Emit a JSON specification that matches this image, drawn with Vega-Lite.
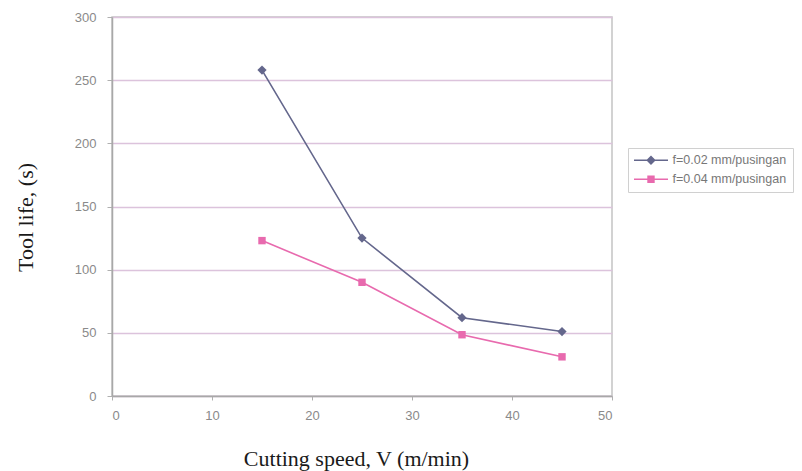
{
  "$schema": "https://vega.github.io/schema/vega-lite/v6.json",
  "width": 500,
  "height": 379,
  "autosize": "none",
  "padding": {"left": 112, "top": 17, "right": 190, "bottom": 75},
  "background": "white",
  "config": {
    "view": {"stroke": "#c4c4c4", "strokeWidth": 1.5},
    "axis": {"labelFont": "Liberation Sans", "labelColor": "#8a8a8a", "labelFontSize": 13, "domainColor": "#a8a8a8", "domainWidth": 1.5, "tickColor": "#b0b0b0", "titleFont": "Liberation Serif", "titleFontWeight": "normal", "titleColor": "#1a1a1a", "titleFontSize": 22}
  },
  "data": {
    "values": [
      {"V": 15, "T": 258, "f": "f=0.02 mm/pusingan"},
      {"V": 25, "T": 125, "f": "f=0.02 mm/pusingan"},
      {"V": 35, "T": 62, "f": "f=0.02 mm/pusingan"},
      {"V": 45, "T": 51, "f": "f=0.02 mm/pusingan"},
      {"V": 15, "T": 123, "f": "f=0.04 mm/pusingan"},
      {"V": 25, "T": 90, "f": "f=0.04 mm/pusingan"},
      {"V": 35, "T": 48.5, "f": "f=0.04 mm/pusingan"},
      {"V": 45, "T": 31, "f": "f=0.04 mm/pusingan"}
    ]
  },
  "encoding": {
    "x": {"field": "V", "type": "quantitative", "scale": {"domain": [0, 50], "nice": false},
      "axis": {"values": [0, 10, 20, 30, 40, 50], "grid": false, "tickSize": 4, "labelPadding": 9, "title": "Cutting speed, V (m/min)", "titleX": 244, "titleY": 62, "titleBaseline": "middle"}},
    "y": {"field": "T", "type": "quantitative", "scale": {"domain": [0, 300], "nice": false},
      "axis": {"values": [0, 50, 100, 150, 200, 250, 300], "grid": true, "gridColor": "#dcc3dc", "gridWidth": 1.5, "tickSize": 5, "labelPadding": 11, "title": "Tool life, (s)", "titleX": -87, "titleY": 200, "titleAngle": -90, "titleAlign": "center", "titleBaseline": "middle"}},
    "color": {"field": "f", "type": "nominal",
      "scale": {"domain": ["f=0.02 mm/pusingan", "f=0.04 mm/pusingan"], "range": ["#64678c", "#e86aae"]},
      "legend": {"orient": "none", "legendX": 516, "legendY": 131, "title": null,
        "strokeColor": "#d0d0d0", "padding": 6, "fillColor": "white",
        "labelFont": "Liberation Sans", "labelFontSize": 12.5, "labelColor": "#777777",
        "symbolSize": 100, "labelOffset": 26, "rowPadding": 6,
        "encode": {"symbols": {"update": {
          "shape": {"signal": "datum.value == 'f=0.02 mm/pusingan' ? 'M-3.4,0H3.4M0,-0.75L0.75,0L0,0.75L-0.75,0Z' : 'M-3.4,0H3.4M-0.6,-0.6H0.6V0.6H-0.6Z'"},
          "stroke": {"signal": "datum.value == 'f=0.02 mm/pusingan' ? '#64678c' : '#e86aae'"},
          "fill": {"signal": "datum.value == 'f=0.02 mm/pusingan' ? '#55587a' : '#e05aa5'"},
          "strokeWidth": {"value": 1.4},
          "x": {"value": 17}
        }}}
      }}
  },
  "layer": [
    {"mark": {"type": "line", "strokeWidth": 1.6}},
    {"mark": {"type": "point", "filled": true, "opacity": 1},
      "encoding": {
        "shape": {"condition": {"test": "datum.f == 'f=0.02 mm/pusingan'", "value": "diamond"}, "value": "square"},
        "size": {"condition": {"test": "datum.f == 'f=0.02 mm/pusingan'", "value": 85}, "value": 55}
      }}
  ]
}
